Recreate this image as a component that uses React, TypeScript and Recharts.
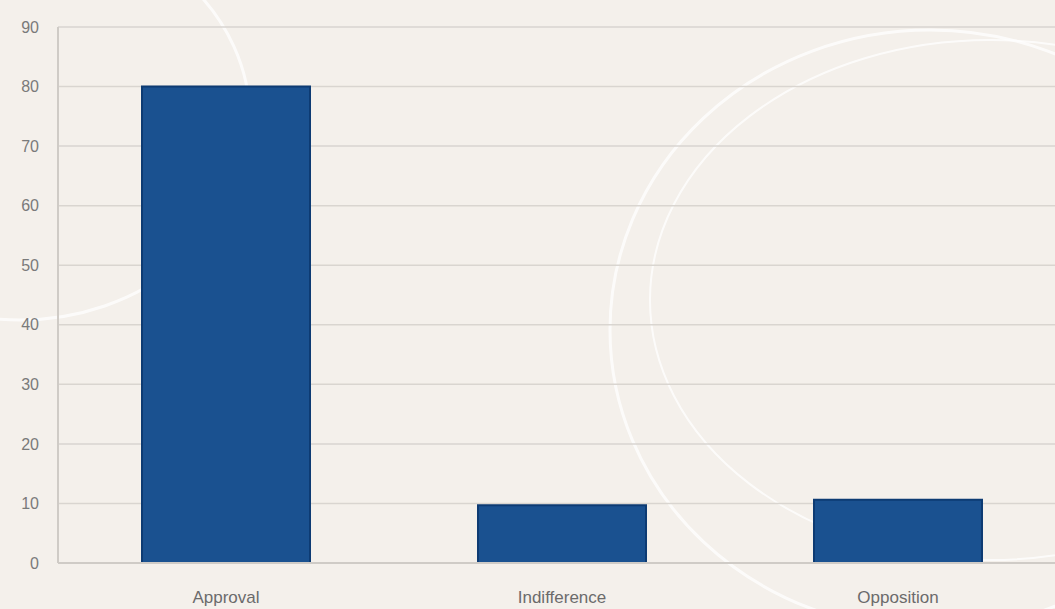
import { BarChart, Bar, XAxis, YAxis, CartesianGrid } from 'recharts';

const categories = ['Approval', 'Indifference', 'Opposition'];
const shares = [80, 9.7, 10.6];
const yTicks = [0, 10, 20, 30, 40, 50, 60, 70, 80, 90];

const data = categories.map((name, i) => ({ name, value: shares[i] }));

export default function App() {
  return (
    <div
      style={{
        position: 'absolute',
        left: 0,
        top: 0,
        width: 1055,
        height: 609,
        overflow: 'hidden',
        background: '#f4f0eb',
        fontFamily: 'Liberation Sans, Arial, sans-serif',
      }}
    >
      <svg width={1055} height={609} style={{ position: 'absolute', left: 0, top: 0 }}>
        <g fill="none" stroke="#ffffff" strokeOpacity={0.75}>
          <ellipse cx={20} cy={120} rx={230} ry={200} strokeWidth={3} />
          <ellipse cx={930} cy={330} rx={320} ry={300} strokeWidth={3} />
          <ellipse cx={990} cy={300} rx={340} ry={260} strokeWidth={2} />
        </g>
      </svg>
      <div style={{ position: 'absolute', left: 0, top: 0 }}>
        <BarChart
          width={1066}
          height={609}
          data={data}
          margin={{ top: 27, right: 0, bottom: 0, left: 0 }}
          barCategoryGap="25%"
        >
          <CartesianGrid vertical={false} stroke="#d9d5d0" strokeWidth={1.5} />
          <XAxis
            dataKey="name"
            height={46}
            tickLine={false}
            axisLine={{ stroke: '#cfcbc6', strokeWidth: 2 }}
            tick={{ fill: '#6b6b6b', fontSize: 17 }}
            tickMargin={22}
          />
          <YAxis
            width={58}
            domain={[0, 90]}
            ticks={yTicks}
            interval={0}
            tickLine={false}
            axisLine={{ stroke: '#cfcbc6', strokeWidth: 2 }}
            tick={{ fill: '#7a7a7a', fontSize: 16 }}
            tickMargin={13}
          />
          <Bar
            dataKey="value"
            fill="#1a5190"
            stroke="#0d3b73"
            strokeWidth={2}
            isAnimationActive={false}
          />
        </BarChart>
      </div>
    </div>
  );
}
